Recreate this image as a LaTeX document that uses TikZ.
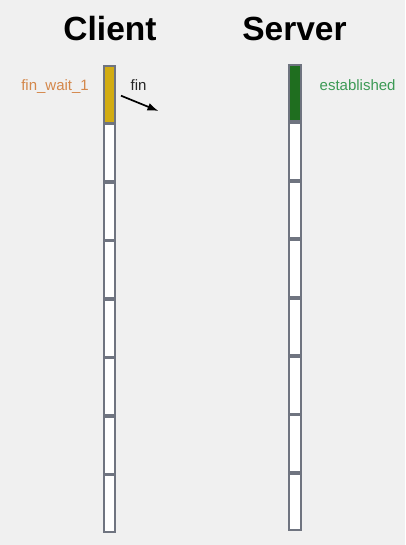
\documentclass[tikz,border=0pt]{standalone}
\usepackage{fontspec}
\setmainfont{Liberation Sans}
\usetikzlibrary{positioning,arrows.meta}
\definecolor{bggrey}{HTML}{F0F0F0}
\definecolor{slotgrey}{HTML}{6F7480}
\definecolor{finyellow}{HTML}{D2AC12}
\definecolor{estgreen}{HTML}{1F6E1F}
\definecolor{labelorange}{HTML}{D4874A}
\definecolor{labelgreen}{HTML}{3C9A55}
\begin{document}
\begin{tikzpicture}[x=1pt, y=-1pt,
  slot/.style={rectangle, draw=slotgrey, fill=white, line width=1.9pt, inner sep=0pt, minimum width=11.4pt, minimum height=56.6pt},
  title/.style={font=\fontsize{33.5}{36}\selectfont\bfseries, anchor=base, inner sep=0pt},
  state/.style={font=\fontsize{15}{17}\selectfont, inner sep=0pt}]
\useasboundingbox[fill=bggrey] (0,0) rectangle (405,545);
\node [title] (client) at (110,40.5) {Client};
\node [title] (server) at (294.5,40.5) {Server};
% client column
\node [slot, fill=finyellow] (c1) at (109.65,94.25) {};
\node [slot, below=0pt of c1] (c2) {};
\node [slot, below=0pt of c2] (c3) {};
\node [slot, below=0pt of c3] (c4) {};
\node [slot, below=0pt of c4] (c5) {};
\node [slot, below=0pt of c5] (c6) {};
\node [slot, below=0pt of c6] (c7) {};
\node [slot, below=0pt of c7] (c8) {};
% server column
\node [slot, fill=estgreen, minimum height=56.5pt] (s1) at (295,93.2) {};
\node [slot, minimum height=56.5pt, below=0pt of s1] (s2) {};
\node [slot, minimum height=56.5pt, below=0pt of s2] (s3) {};
\node [slot, minimum height=56.5pt, below=0pt of s3] (s4) {};
\node [slot, minimum height=56.5pt, below=0pt of s4] (s5) {};
\node [slot, minimum height=56.5pt, below=0pt of s5] (s6) {};
\node [slot, minimum height=56.5pt, below=0pt of s6] (s7) {};
\node [slot, minimum height=56.5pt, below=0pt of s7] (s8) {};
% states
\node [state, text=labelorange, anchor=base east] (finwait) at (89,90.5) {fin\_wait\_1};
\node [state, text=labelgreen, anchor=base west] (established) at (319.5,90.5) {established};
% message
\node [state, text=black!85, anchor=base west] (finlabel) at (130.5,90.5) {fin};
\coordinate (finstart) at (121,95.7);
\coordinate (finend) at (158.5,111);
\draw [line width=1.7pt, -{Latex[length=11pt,width=8pt]}] (finstart) -- (finend);
\end{tikzpicture}
\end{document}
